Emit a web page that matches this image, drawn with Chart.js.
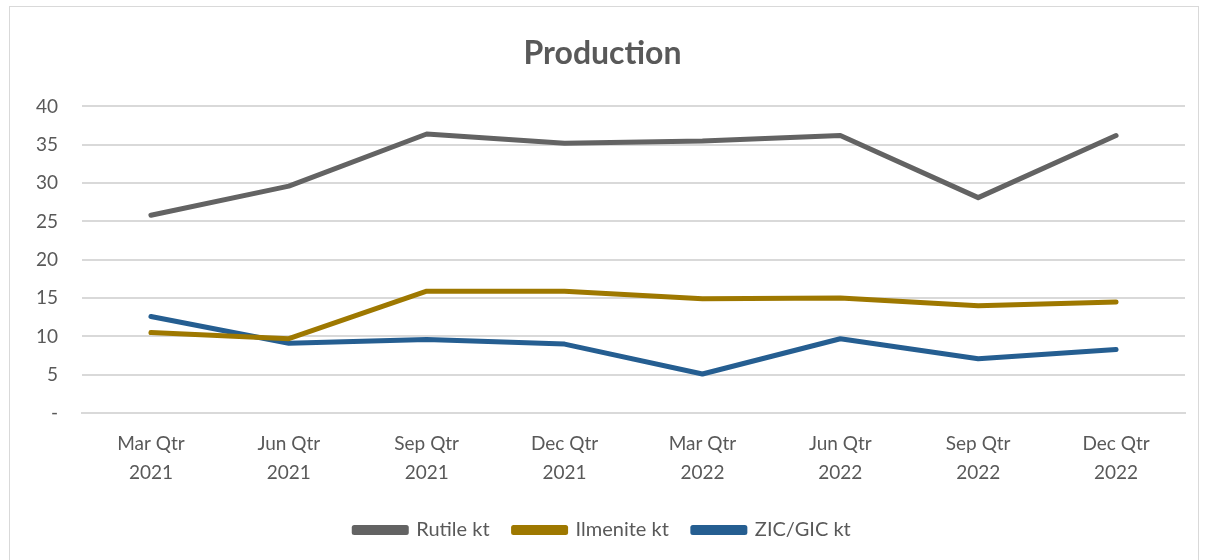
<!DOCTYPE html>
<html><head><meta charset="utf-8">
<script src="https://cdn.jsdelivr.net/npm/chart.js@4.4.0/dist/chart.umd.min.js"></script>
<style>
html,body{margin:0;padding:0;background:#fff;}
#frame{position:absolute;left:9px;top:6px;width:1190px;height:560px;border:1px solid #d9d9d9;box-sizing:border-box;}
#wrap{position:absolute;left:0;top:0;width:1209px;height:560px;}
</style></head>
<body>
<div id="frame"></div>
<div id="wrap"><canvas id="c" width="1209" height="560"></canvas></div>
<script>
const categories = [["Mar Qtr","2021"],["Jun Qtr","2021"],["Sep Qtr","2021"],["Dec Qtr","2021"],["Mar Qtr","2022"],["Jun Qtr","2022"],["Sep Qtr","2022"],["Dec Qtr","2022"]];
const rutile = [25.8, 29.6, 36.4, 35.2, 35.5, 36.2, 28.1, 36.2];
const ilmenite = [10.5, 9.7, 15.9, 15.9, 14.9, 15.0, 14.0, 14.5];
const zicgic = [12.6, 9.1, 9.6, 9.0, 5.1, 9.7, 7.1, 8.3];
const yTicks = [0, 5, 10, 15, 20, 25, 30, 35, 40];

const FONT = "Lato, 'Open Sans', 'Liberation Sans', sans-serif";
const txt = '#595959';
const ds = (label, data, color) => ({label, data, borderColor: color, backgroundColor: color, borderWidth: 5, pointRadius: 0, tension: 0, borderCapStyle: 'round', borderJoinStyle: 'round'});

new Chart(document.getElementById('c'), {
  type: 'line',
  data: {
    labels: categories,
    datasets: [ds('Rutile kt', rutile, '#636363'), ds('Ilmenite kt', ilmenite, '#9e7800'), ds('ZIC/GIC kt', zicgic, '#255e91')]
  },
  options: {
    responsive: false,
    animation: false,
    layout: {padding: {left: 20, right: 24, top: 26, bottom: 10}},
    plugins: {
      title: {display: true, text: 'Production', color: txt, font: {family: FONT, size: 32, weight: 'bold'}, padding: {top: 8, bottom: 34}},
      legend: {position: 'bottom', labels: {color: txt, font: {family: FONT, size: 20}, boxWidth: 52, boxHeight: 5, padding: 24}},
      tooltip: {enabled: false}
    },
    scales: {
      x: {
        offset: true,
        grid: {display: false},
        border: {color: '#d9d9d9', width: 2},
        ticks: {color: txt, font: {family: FONT, size: 19, lineHeight: 1.55}, maxRotation: 0, padding: 8}
      },
      y: {
        min: 0, max: 40,
        afterBuildTicks: (s) => { s.ticks = yTicks.map(v => ({value: v})); },
        afterFit: (s) => { s.width = 62; },
        grid: {color: '#d9d9d9', lineWidth: 2, drawTicks: false},
        border: {display: false},
        ticks: {color: txt, font: {family: FONT, size: 19}, padding: 24, callback: (v) => v === 0 ? '-' : v}
      }
    }
  }
});
</script>
</body></html>
